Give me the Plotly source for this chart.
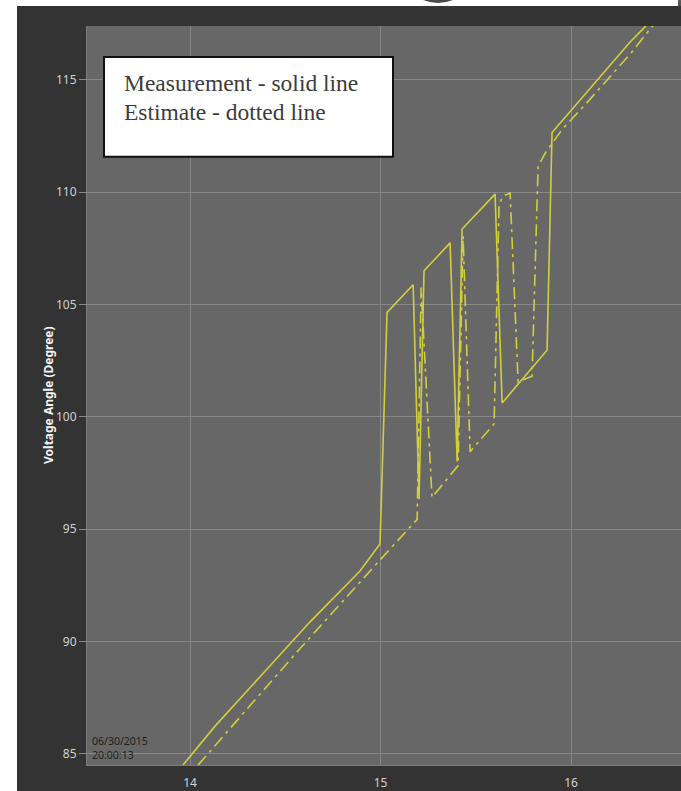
import plotly.graph_objects as go

# Measured voltage angle (solid) and estimated angle (dash-dot), time axis in seconds
meas_t = [13.963, 14.131, 14.378, 14.630, 14.892, 14.997, 15.034, 15.171, 15.202,
          15.228, 15.365, 15.402, 15.428, 15.601, 15.638, 15.874, 15.900, 15.995,
          16.142, 16.310, 16.378, 16.598]
meas_deg = [84.51, 86.24, 88.54, 90.88, 93.14, 94.34, 104.65, 105.88, 96.33,
            106.50, 107.74, 98.01, 108.36, 109.91, 100.62, 102.96, 112.65, 113.58,
            115.04, 116.68, 117.26, 119.34]

est_t = [14.042, 14.577, 14.997, 15.192, 15.213, 15.270, 15.407, 15.433, 15.470,
         15.596, 15.622, 15.643, 15.680, 15.722, 15.795, 15.827, 15.864, 15.953,
         16.074, 16.205, 16.320, 16.415, 16.635]
est_deg = [84.51, 89.69, 93.63, 95.44, 105.75, 96.42, 97.83, 108.05, 98.45,
           99.69, 109.47, 109.82, 109.96, 101.55, 101.81, 111.15, 111.73, 112.79,
           113.89, 115.13, 116.24, 117.26, 119.34]

x_ticks = [14, 15, 16]
y_ticks = [85, 90, 95, 100, 105, 110, 115]

legend_lines = ["Measurement - solid line", "Estimate - dotted line"]
stamp_lines = ["06/30/2015", "20:00:13"]
y_title = "Voltage Angle (Degree)"

W, H = 681, 791
L, R, T, B = 87, 0, 26, 24
PW, PH = W - L - R, H - T - B


def px(x):
    return (x - L) / PW


def py(y):
    return (H - B - y) / PH


LINE = "#d2cf3c"

fig = go.Figure()
fig.add_trace(go.Scatter(x=meas_t, y=meas_deg, mode="lines",
                         line=dict(color=LINE, width=1.6), showlegend=False,
                         hoverinfo="skip"))
fig.add_trace(go.Scatter(x=est_t, y=est_deg, mode="lines",
                         line=dict(color=LINE, width=1.6, dash="12px,5px,3px,5px"),
                         showlegend=False, hoverinfo="skip"))

tick_font = dict(family="Noto Sans, Open Sans, sans-serif", size=12, color="#d2d2d2")

fig.update_layout(
    width=W, height=H, autosize=False,
    margin=dict(l=L, r=R, t=T, b=B, pad=0),
    paper_bgcolor="#333333", plot_bgcolor="#676767",
    xaxis=dict(range=[13.459, 16.577], tickvals=x_ticks, ticktext=[str(v) for v in x_ticks],
               showgrid=True, gridcolor="#878787", gridwidth=1, zeroline=False,
               ticks="outside", ticklen=7, tickcolor="rgba(0,0,0,0)",
               showline=True, linecolor="#7c7c7c", linewidth=1,
               tickfont=tick_font, fixedrange=True),
    yaxis=dict(range=[84.51, 117.39], tickvals=y_ticks, ticktext=[str(v) for v in y_ticks],
               showgrid=True, gridcolor="#878787", gridwidth=1, zeroline=False,
               ticks="outside", ticklen=7, tickcolor="#8a8a8a",
               showline=True, linecolor="#7c7c7c", linewidth=1,
               tickfont=tick_font, fixedrange=True),
    shapes=[
        # white page edges around the dark panel
        dict(type="rect", xref="paper", yref="paper", layer="above",
             x0=px(-5), x1=px(W + 5), y0=py(6), y1=py(-5),
             fillcolor="white", line=dict(width=0)),
        dict(type="rect", xref="paper", yref="paper", layer="above",
             x0=px(-5), x1=px(17), y0=py(H + 5), y1=py(-5),
             fillcolor="white", line=dict(width=0)),
        dict(type="circle", xref="paper", yref="paper", layer="above",
             x0=px(399), x1=px(477), y0=py(3), y1=py(-75),
             fillcolor="#4a4a4a", line=dict(width=0)),
        dict(type="rect", xref="paper", yref="paper", layer="above",
             x0=px(678), x1=px(681), y0=py(6), y1=py(0),
             fillcolor="#555555", line=dict(width=0)),
        # note box
        dict(type="rect", xref="paper", yref="paper", layer="above",
             x0=px(104), x1=px(393), y0=py(157), y1=py(57),
             fillcolor="white", line=dict(color="#111111", width=2)),
    ],
)

serif = dict(family="Liberation Serif, Times New Roman, serif", size=23.5, color="#3c3c3c")
for text, yc in zip(legend_lines, [83, 112]):
    fig.add_annotation(x=px(122), y=py(yc), xref="paper", yref="paper",
                       xanchor="left", yanchor="middle", text=text, showarrow=False,
                       font=serif)

# date/time stamp in the lower-left corner of the plot area
fig.add_annotation(x=px(90), y=py(749.5), xref="paper", yref="paper",
                   xanchor="left", yanchor="middle", align="left",
                   text="<br>".join(stamp_lines), showarrow=False,
                   font=dict(family="Noto Sans, Open Sans, sans-serif", size=10.5,
                             color="#1e1e1e"))

fig.add_annotation(x=px(48), y=py(396), xref="paper", yref="paper",
                   xanchor="center", yanchor="middle", text="<b>" + y_title + "</b>",
                   textangle=-90, showarrow=False,
                   font=dict(family="Noto Sans, Open Sans, sans-serif", size=12, color="#f2f2f2"))

fig.write_html("out.html")
